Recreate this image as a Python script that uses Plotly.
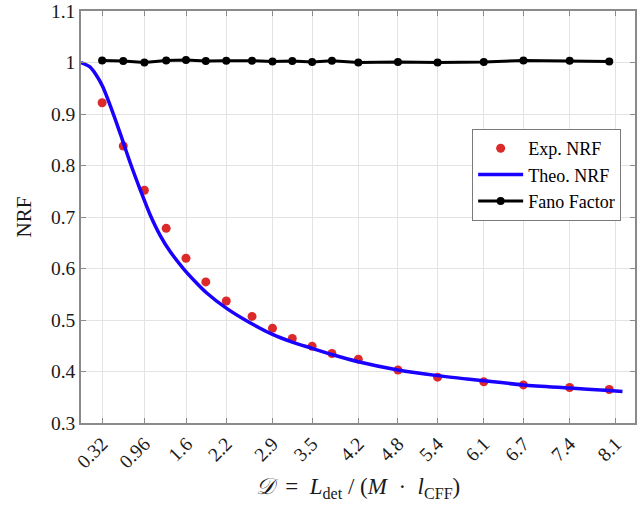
import plotly.graph_objects as go

# Experimental points (x = D, y = NRF / Fano)
d_values = [0.32, 0.64, 0.96, 1.29, 1.59, 1.89, 2.2, 2.59, 2.9, 3.2, 3.5, 3.8, 4.2,
            4.8, 5.4, 6.1, 6.7, 7.4, 8.0]
exp_nrf = [0.922, 0.838, 0.752, 0.678, 0.620, 0.574, 0.537, 0.507, 0.484, 0.464,
           0.449, 0.435, 0.424, 0.403, 0.389, 0.380, 0.374, 0.369, 0.365]
fano = [1.004, 1.003, 1.000, 1.004, 1.005, 1.003, 1.0035, 1.0035, 1.002, 1.003,
        1.001, 1.0035, 1.000, 1.001, 1.000, 1.001, 1.004, 1.0035, 1.002]

# Theoretical curve
theo_x = [0.0, 0.13, 0.23, 0.33, 0.49, 0.6, 0.76, 0.9, 1.045, 1.2, 1.35, 1.55,
          1.75, 1.9, 2.2, 2.5, 2.9, 3.2, 3.5, 3.8, 4.2, 4.8, 5.4, 6.1, 6.7, 7.4,
          8.0, 8.2]
theo_y = [1.0, 0.992, 0.976, 0.953, 0.90, 0.86, 0.80, 0.752, 0.705, 0.664, 0.633,
          0.60, 0.572, 0.553, 0.523, 0.499, 0.472, 0.457, 0.445, 0.433, 0.419,
          0.403, 0.392, 0.382, 0.374, 0.368, 0.363, 0.361]

tick_vals = [0.32, 0.96, 1.6, 2.2, 2.9, 3.5, 4.2, 4.8, 5.4, 6.1, 6.7, 7.4, 8.1]
tick_text = ["0.32", "0.96", "1.6", "2.2", "2.9", "3.5", "4.2", "4.8", "5.4",
             "6.1", "6.7", "7.4", "8.1"]

SERIF = "Liberation Serif, Times New Roman, serif"
AX = "#8a8a8a"

fig = go.Figure()
fig.add_trace(go.Scatter(x=d_values, y=exp_nrf, mode="markers", name="Exp. NRF",
                         marker=dict(color="#dc2a2a", size=9)))
fig.add_trace(go.Scatter(x=theo_x, y=theo_y, mode="lines", name="Theo. NRF",
                         line=dict(color="#1a00ff", width=3.5, shape="spline",
                                   smoothing=0.8)))
fig.add_trace(go.Scatter(x=d_values, y=fano, mode="lines+markers", name="Fano Factor",
                         line=dict(color="black", width=3),
                         marker=dict(color="black", size=8)))

x_title = ("<i>𝒟</i>  =  <i>L</i><sub>det</sub> / (<i>M</i>  ·  "
           "<i>l</i><sub>CFF</sub>)")

fig.update_layout(
    width=641, height=511,
    margin=dict(l=81, r=6, t=11, b=88),
    paper_bgcolor="white", plot_bgcolor="white",
    font=dict(family=SERIF, size=19, color="#1a1a1a"),
    showlegend=True,
    legend=dict(x=0.975, y=0.7136, xanchor="right", yanchor="top",
                bgcolor="white", bordercolor="#7a7a7a", borderwidth=1,
                font=dict(family=SERIF, size=18, color="black"),
                tracegroupgap=0, itemwidth=45),
    xaxis=dict(range=[0, 8.39], tickmode="array", tickvals=tick_vals,
               ticktext=tick_text, tickangle=-45,
               showline=True, linecolor=AX, linewidth=1.5, mirror="ticks",
               ticks="inside", ticklen=5, tickcolor=AX,
               showgrid=True, gridcolor="#e3e3e3", gridwidth=1, zeroline=False,
               tickfont=dict(family=SERIF, size=19.5, color="#1a1a1a"),
               ticklabeloverflow="allow",
               title=dict(text=x_title,
                          font=dict(family=SERIF, size=23, color="#1a1a1a"),
                          standoff=7),
               automargin=False),
    yaxis=dict(range=[0.3, 1.1001], dtick=0.1, tick0=0.3,
               showline=True, linecolor=AX, linewidth=1.5, mirror="ticks",
               ticks="inside", ticklen=5, tickcolor=AX,
               showgrid=True, gridcolor="#e3e3e3", gridwidth=1, zeroline=False,
               tickfont=dict(family=SERIF, size=19.5, color="#1a1a1a"),
               ticklabeloverflow="allow",
               title=dict(text="NRF", font=dict(family=SERIF, size=21, color="#1a1a1a"),
                          standoff=14),
               automargin=False),
)

# remove the default page margin so the figure sits at the window origin
fig.write_html("out.html", config={"displayModeBar": False},
               post_script="document.body.style.margin='0';")
